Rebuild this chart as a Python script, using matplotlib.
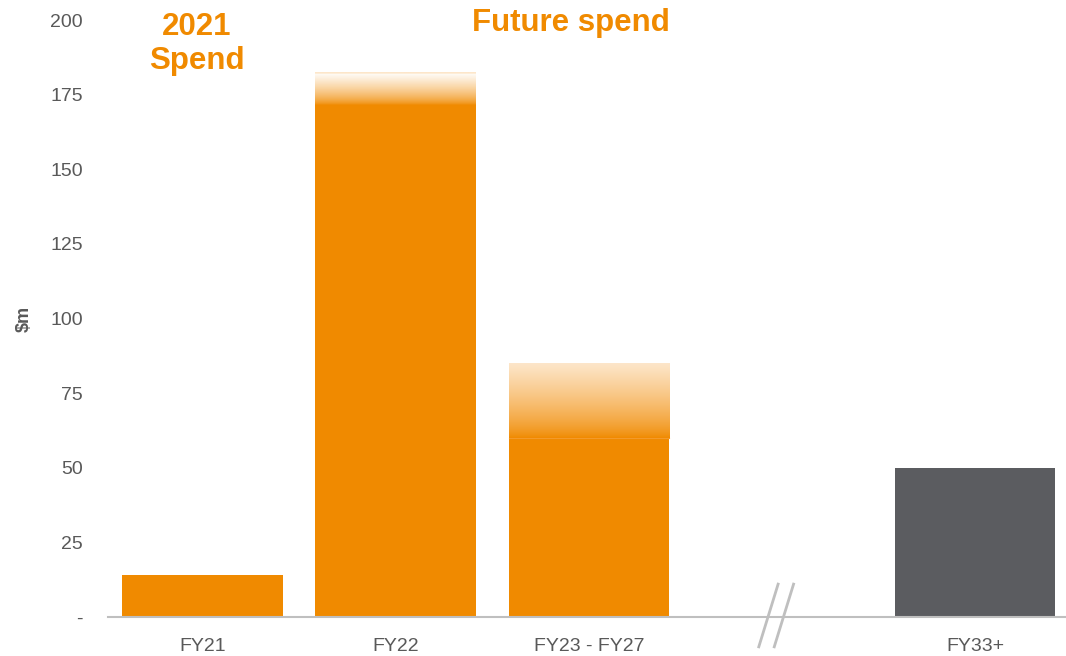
import numpy as np
import matplotlib.pyplot as plt
from matplotlib.colors import to_rgb
import matplotlib.transforms as mtrans

plt.rcParams['font.family'] = ['Liberation Sans', 'DejaVu Sans']

categories = ['FY21', 'FY22', 'FY23 - FY27', '', 'FY33+']
solid_values = [14, 171.5, 60, 0, 50]
range_top = [14, 182.5, 85, 0, 50]
bar_colors = ['#F08A00', '#F08A00', '#F08A00', 'none', '#5B5C60']
yticks = [0, 25, 50, 75, 100, 125, 150, 175, 200]
ytick_labels = ['-', '25', '50', '75', '100', '125', '150', '175', '200']

orange = np.array(to_rgb('#F08A00'))
peach = np.array(to_rgb('#FDE6CA'))
white = np.array([1.0, 1.0, 1.0])

dpi = 100
fig = plt.figure(figsize=(1066 / dpi, 656 / dpi), dpi=dpi)
ax = fig.add_axes([0.101, 0.0595, 0.899, 0.91])

xs = np.arange(len(categories))
w = 0.83
ax.bar(xs, solid_values, width=w, color=bar_colors, zorder=2)


def grad_img(bottom_col, top_col, n=100, gamma=1.0, band=None):
    t = np.linspace(0, 1, n) ** gamma
    cols = bottom_col[None, :] * (1 - t[:, None]) + top_col[None, :] * t[:, None]
    if band is not None:
        cols[-band:] = peach
    return cols[:, None, :]


# FY22 upper range fade
i = 1
img = grad_img(orange, white, n=120, gamma=0.7, band=6)
ax.imshow(img, origin='lower', aspect='auto', zorder=2,
          extent=(xs[i] - w / 2, xs[i] + w / 2, solid_values[i], range_top[i]))
# FY23-27 upper range fade
i = 2
img = grad_img(orange, peach, n=120, gamma=0.75)
ax.imshow(img, origin='lower', aspect='auto', zorder=2,
          extent=(xs[i] - w / 2, xs[i] + w / 2, solid_values[i], range_top[i]))
ax.plot([xs[i] - w / 2, xs[i] + w / 2], [solid_values[i]] * 2,
        color='#F39A2A', lw=0.8, zorder=3)

ax.set_xlim(-0.49, 4.47)
ax.set_ylim(0, 200)
ax.set_yticks(yticks)
ax.set_yticklabels(ytick_labels)
ax.set_xticks(xs)
ax.set_xticklabels(categories)
ax.tick_params(axis='both', length=0, labelsize=14, colors='#595959')
ax.tick_params(axis='y', pad=18)
ax.tick_params(axis='x', pad=15)
for s in ['top', 'right', 'left']:
    ax.spines[s].set_visible(False)
ax.spines['bottom'].set_color('#BFBFBF')
ax.spines['bottom'].set_linewidth(1.5)
ax.set_ylabel('$m', fontsize=13, fontweight='bold', color='#595959')
ax.yaxis.set_label_coords(-0.078, 0.5)

# axis break marks
tr = mtrans.blended_transform_factory(ax.transData, ax.transAxes)
for dx in [-0.07, 0.01]:
    ax.plot([3 + dx - 0.05, 3 + dx + 0.05], [-0.05, 0.055], transform=tr,
            color='#BFBFBF', lw=2, clip_on=False, zorder=4)

ax.text(-0.03, 192, '2021\nSpend', ha='center', va='center', fontsize=22.5,
        fontweight='bold', color='#F08A00', linespacing=1.15)
ax.text(1.91, 199, 'Future spend', ha='center', va='center', fontsize=22.5,
        fontweight='bold', color='#F08A00')

fig.savefig('out.png', dpi=dpi)
